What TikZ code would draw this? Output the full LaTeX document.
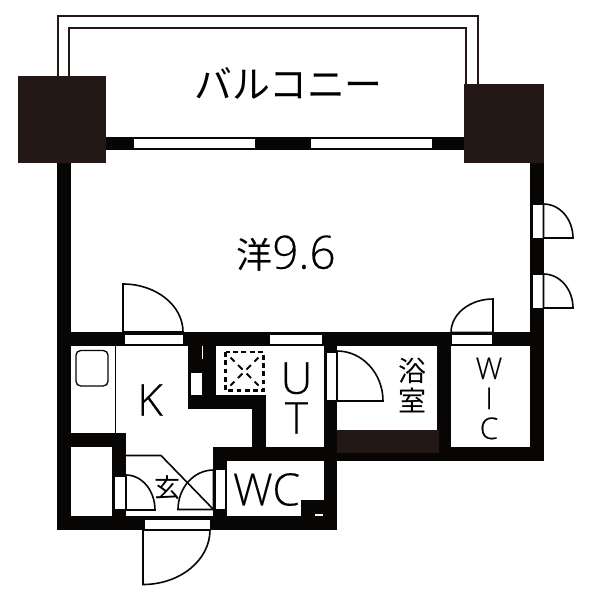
\documentclass[tikz,border=0pt]{standalone}
\usepackage{fontspec}
\setmainfont{Open Sans}[UprightFont={* Light},UprightFeatures={FakeBold=0.25}]
\newfontfamily\jpfont{Noto Sans CJK JP}
\definecolor{wallc}{HTML}{080505}
\definecolor{colc}{HTML}{231815}
\tikzset{
  wall/.style={fill=wallc,draw=none},
  column/.style={fill=colc,draw=none},
  opening/.style={fill=white,draw=wallc,line width=0.4pt},
  leaf/.style={draw=wallc,line width=1.2pt,fill=white,line join=miter},
  thin line/.style={draw=wallc,line width=1.2pt},
  rail/.style={draw=colc,line width=1.6pt},
  pan/.style={draw=wallc,line width=1.6pt,dash pattern=on 3.6pt off 2.6pt},
  pandiag/.style={draw=wallc,line width=1.5pt},
  lbl/.style={inner sep=0pt,text=black},
}
\begin{document}
\begin{tikzpicture}[x=0.75pt,y=-0.75pt]
\useasboundingbox (0,0) rectangle (600,600);
\fill[white] (0,0) rectangle (600,600);
% balcony rails
\draw[rail] (58,80) -- (58,16) -- (477.7,16) -- (477.7,90);
\draw[rail] (69,80) -- (69,28) -- (465.7,28) -- (465.7,90);
% walls
\fill[wall] (100,136.5) rectangle (470,150);
\fill[wall] (57,160) rectangle (70.7,529);
\fill[wall] (530,160) rectangle (543.5,460.5);
\fill[wall] (57,332) rectangle (543,345.5);
\fill[wall] (437,345) rectangle (451,460.5);
\fill[wall] (324,345) rectangle (337,529);
\fill[wall] (324,447) rectangle (543,460.5);
\fill[wall] (213,447) rectangle (337,460.5);
\fill[wall] (213,447) rectangle (226.7,529);
\fill[wall] (252,395) rectangle (266,447);
\fill[wall] (188,345) rectangle (216,408.5);
\fill[wall] (188,395) rectangle (266,408.5);
\fill[wall] (57,433) rectangle (126,446.7);
\fill[wall] (112,433) rectangle (126,517);
\fill[wall] (57,516) rectangle (337,529.5);
\fill[wall] (300.7,500) rectangle (326,518);
% columns
\fill[column] (18,76) rectangle (106,163);
\fill[column] (463.7,83.5) rectangle (543.7,163);
\fill[column] (336.5,430) rectangle (439,453.3);
% windows and openings
\draw[opening] (133.5,138) rectangle (255.5,148.5);
\draw[opening] (310,138) rectangle (432,148.5);
\draw[opening] (124,334) rectangle (183,344);
\draw[opening] (269.5,334) rectangle (322,344);
\draw[opening] (451.5,334) rectangle (492.5,344.5);
\draw[opening] (532,204) rectangle (543,238);
\draw[opening] (532,274) rectangle (543,308);
\draw[opening] (326,352) rectangle (336.5,400.5);
\draw[opening] (190.5,372.7) rectangle (202.7,395);
\draw[opening] (114,476) rectangle (125,509);
\draw[opening] (215.5,469.5) rectangle (225.5,509);
\draw[opening] (144,519) rectangle (210,529);
\fill[white] (315,514.2) rectangle (323,516);
\draw[draw=white,line width=0.5pt] (202.7,345.5) -- (202.7,359);
% door leaves
\draw[leaf] (123,332) -- (123,284) arc[start angle=-90,end angle=0,x radius=60,y radius=48] -- cycle;
\draw[leaf] (493,332.5) -- (493,299) arc[start angle=-90,end angle=-180,x radius=42,y radius=33.5] -- cycle;
\draw[leaf] (543.5,238) -- (543.5,204) arc[start angle=-90,end angle=0,x radius=29.5,y radius=34] -- cycle;
\draw[leaf] (543.5,308) -- (543.5,274) arc[start angle=-90,end angle=0,x radius=29.5,y radius=34] -- cycle;
\draw[leaf] (337,401) -- (337,351) arc[start angle=-90,end angle=0,x radius=46,y radius=50] -- cycle;
\draw[leaf] (126,510) -- (126,475) arc[start angle=-90,end angle=0,x radius=29,y radius=35] -- cycle;
\draw[leaf] (213.5,509.5) -- (213.5,470) arc[start angle=-90,end angle=-180,x radius=35.5,y radius=39.5] -- cycle;
\draw[leaf] (143,530) -- (143,584.5) arc[start angle=90,end angle=0,x radius=67,y radius=54.5] -- cycle;
% entry step
\draw[thin line] (126,455.5) -- (161,455.5) -- (213.5,509.5);
% kitchen
\draw[thin line] (115.3,345) -- (115.3,433);
\draw[draw=wallc,line width=1pt,rounded corners=3.5pt] (76,350.5) rectangle (108,386);
% floor pan
\draw[pan] (225.5,352) rectangle (263.5,390.5);
\draw[pandiag] (230.5,357.5) -- (234.5,361.5) (238,365) -- (242.5,369.5) (246.5,373.5) -- (251,378) (254.5,381.5) -- (258.5,385.5);
\draw[pandiag] (258.5,357.5) -- (254.5,361.5) (251,365) -- (246.5,369.5) (242.5,373.5) -- (238,378) (234.5,381.5) -- (230.5,385.5);
% labels
\node[lbl,font=\jpfont\fontsize{28.4pt}{30pt}\selectfont] (balcony) at (288.5,83) {バルコニー};
\node[lbl,font=\fontsize{34.5pt}{36pt}\selectfont,anchor=west] (room) at (236,253.5) {{\jpfont\fontsize{27pt}{30pt}\selectfont 洋}9.6};
\node[lbl,font=\fontsize{33pt}{36pt}\selectfont] (kitchen) at (150,400) {K};
\node[lbl,font=\fontsize{33pt}{30pt}\selectfont,align=center] (ut) at (296.5,398) {U\\T};
\node[lbl,font=\fontsize{22.4pt}{22.5pt}\selectfont,align=center] (wic) at (489,398.5) {W\\I\\C};
\node[lbl,font=\fontsize{33.5pt}{36pt}\selectfont] (wc) at (266.5,489.5) {WC};
\node[lbl,font=\jpfont\fontsize{21pt}{22.5pt}\selectfont,align=center] (bath) at (412,385) {浴\\室};
\node[lbl,font=\jpfont\fontsize{19.5pt}{21pt}\selectfont] (genkan) at (167,487.5) {玄};
\end{tikzpicture}
\end{document}
